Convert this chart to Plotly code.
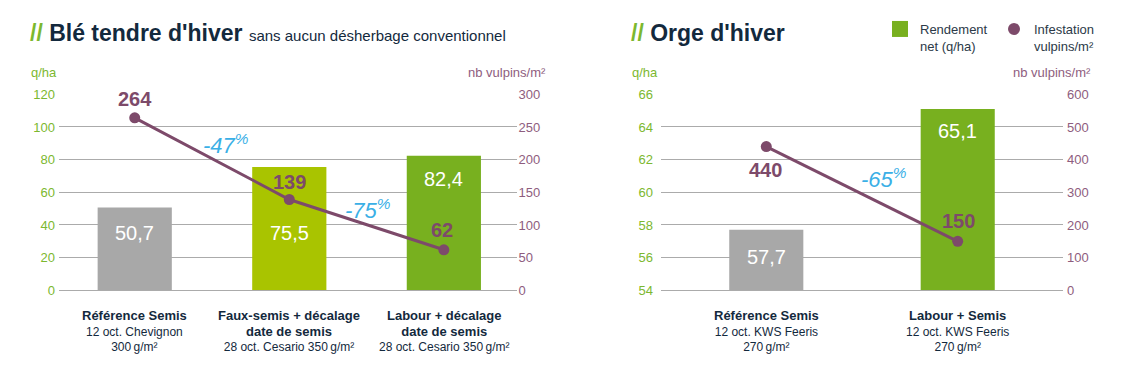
import plotly.graph_objects as go
from plotly.subplots import make_subplots

W, H = 1145, 371

# ---------------- data ----------------
ble_categories = ["Référence Semis", "Faux-semis + décalage", "Labour + décalage"]
ble_cat_labels = [
    "<span style='font-size:13px'><b>Référence Semis</b></span><br>12 oct. Chevignon<br>300\u2009g/m²",
    "<span style='font-size:13px'><b>Faux-semis + décalage</b></span><br><span style='font-size:13px'><b>date de semis</b></span><br>28 oct. Cesario 350\u2009g/m²",
    "<span style='font-size:13px'><b>Labour + décalage</b></span><br><span style='font-size:13px'><b>date de semis</b></span><br>28 oct. Cesario 350\u2009g/m²",
]
ble_rendement = [50.7, 75.5, 82.4]
ble_vulpins = [264, 139, 62]
ble_reductions = ["-47", "-75"]

orge_categories = ["Référence Semis", "Labour + Semis"]
orge_cat_labels = [
    "<span style='font-size:13px'><b>Référence Semis</b></span><br>12 oct. KWS Feeris<br>270\u2009g/m²",
    "<span style='font-size:13px'><b>Labour + Semis</b></span><br>12 oct. KWS Feeris<br>270\u2009g/m²",
]
orge_rendement = [57.7, 65.1]
orge_vulpins = [440, 150]
orge_reductions = ["-65"]

# ---------------- styles ----------------
FONT = "Liberation Sans, Arial, Helvetica, sans-serif"
NAVY = "#13293d"
GREEN_AX = "#7cb82f"
MAUVE_AX = "#8e5d7e"
LINE_C = "#7d4a6a"
BLUE = "#3aafe6"
GRID = "#ababab"
ble_colors = ["#a8a8a8", "#a9c400", "#78b01f"]
orge_colors = ["#a8a8a8", "#78b01f"]


def px(x):
    return x / W


def py(y):
    return 1 - y / H


def fmt(v):
    return f"{v:.1f}".replace(".", ",")


fig = make_subplots(rows=1, cols=2, specs=[[{"secondary_y": True}, {"secondary_y": True}]])

# bars
fig.add_trace(go.Bar(x=ble_categories, y=ble_rendement, marker=dict(color=ble_colors, line=dict(width=0)),
                     width=0.48, showlegend=False, hoverinfo="skip"), row=1, col=1, secondary_y=False)
fig.add_trace(go.Bar(x=orge_categories, y=orge_rendement, marker=dict(color=orge_colors, line=dict(width=0)),
                     width=0.387, showlegend=False, hoverinfo="skip"), row=1, col=2, secondary_y=False)
# lines
fig.add_trace(go.Scatter(x=ble_categories, y=ble_vulpins, mode="lines+markers",
                         line=dict(color=LINE_C, width=3), marker=dict(size=11, color=LINE_C),
                         showlegend=False, hoverinfo="skip"), row=1, col=1, secondary_y=True)
fig.add_trace(go.Scatter(x=orge_categories, y=orge_vulpins, mode="lines+markers",
                         line=dict(color=LINE_C, width=3), marker=dict(size=11, color=LINE_C),
                         showlegend=False, hoverinfo="skip"), row=1, col=2, secondary_y=True)
# legend entries
fig.add_trace(go.Scatter(x=[None], y=[None], mode="markers", name="Rendement<br>net (q/ha)",
                         marker=dict(symbol="square", size=17, color="#78b01f")), row=1, col=2, secondary_y=False)
fig.add_trace(go.Scatter(x=[None], y=[None], mode="markers", name="Infestation<br>vulpins/m²",
                         marker=dict(symbol="circle", size=12, color=LINE_C)), row=1, col=2, secondary_y=False)

ydom = [py(290.3), py(94.3)]
common_y = dict(domain=ydom, showgrid=True, gridcolor=GRID, gridwidth=1.2, zeroline=False,
                showline=False, ticks="", automargin=False, tickfont=dict(family=FONT, size=13, color=GREEN_AX))
common_y2 = dict(domain=ydom, showgrid=False, zeroline=False, ticks="", automargin=False,
                 tickfont=dict(family=FONT, size=13, color=MAUVE_AX))

fig.update_layout(
    width=W, height=H, margin=dict(l=0, r=0, t=0, b=0, pad=0, autoexpand=False),
    paper_bgcolor="white", plot_bgcolor="white",
    font=dict(family=FONT, color=NAVY),
    xaxis=dict(domain=[px(59), px(516.5)], range=[-0.49, 2.47], showticklabels=False, ticks="",
               showgrid=False, showline=True, linecolor=GRID, linewidth=1.2, zeroline=False, automargin=False),
    xaxis2=dict(domain=[px(661), px(1063)], range=[-0.55, 1.55], showticklabels=False, ticks="",
                showgrid=False, showline=True, linecolor=GRID, linewidth=1.2, zeroline=False, automargin=False),
    yaxis=dict(**common_y, range=[0, 120], dtick=20, ticklabelstandoff=3),
    yaxis2=dict(**common_y2, range=[0, 300], dtick=50, ticklabelstandoff=1),
    yaxis3=dict(**common_y, range=[54, 66], dtick=2, ticklabelstandoff=7),
    yaxis4=dict(**common_y2, range=[0, 600], dtick=100, ticklabelstandoff=3),
    bargap=0.5,
    legend=dict(orientation="h", x=px(880), y=py(14), xanchor="left", yanchor="top",
                entrywidth=69, entrywidthmode="pixels", valign="top", tracegroupgap=0,
                font=dict(family=FONT, size=13, color="#2c3a48"), bgcolor="rgba(0,0,0,0)"),
)

ann = []
# titles
ann.append(dict(x=px(28), y=py(33), xref="paper", yref="paper", xanchor="left", yanchor="middle",
                showarrow=False, font=dict(family=FONT, size=23, color=NAVY),
                text=f"<b><span style='color:{GREEN_AX}'>//</span> Blé tendre d'hiver</b> "
                     "<span style='font-size:15px'>sans aucun désherbage conventionnel</span>"))
ann.append(dict(x=px(629), y=py(33), xref="paper", yref="paper", xanchor="left", yanchor="middle",
                showarrow=False, font=dict(family=FONT, size=23, color=NAVY),
                text=f"<b><span style='color:{GREEN_AX}'>//</span> Orge d'hiver</b>"))
# axis unit titles
for xc, txt in [(43.5, "q/ha"), (645, "q/ha")]:
    ann.append(dict(x=px(xc), y=py(72), xref="paper", yref="paper", xanchor="center", yanchor="middle",
                    showarrow=False, text=txt, font=dict(family=FONT, size=13, color=GREEN_AX)))
for xr in [548, 1093]:
    ann.append(dict(x=px(xr), y=py(72), xref="paper", yref="paper", xanchor="right", yanchor="middle",
                    showarrow=False, text="nb vulpins/m²", font=dict(family=FONT, size=13, color=MAUVE_AX)))

# category labels
for xa, cats, labels in [("x", ble_categories, ble_cat_labels), ("x2", orge_categories, orge_cat_labels)]:
    for c, lab in zip(cats, labels):
        ann.append(dict(x=c, y=py(306), xref=xa, yref="paper", xanchor="center", yanchor="top",
                        showarrow=False, text=lab, align="center",
                        font=dict(family=FONT, size=12, color=NAVY)))

# bar value labels (white)
ble_bar_shift = [-26, -66, -23]
orge_bar_shift = [-27, -22]
for xa, ya, cats, vals, shifts in [("x", "y", ble_categories, ble_rendement, ble_bar_shift),
                                    ("x2", "y3", orge_categories, orge_rendement, orge_bar_shift)]:
    for c, v, s in zip(cats, vals, shifts):
        ann.append(dict(x=c, y=v, xref=xa, yref=ya, yshift=s, showarrow=False, text=fmt(v),
                        xanchor="center", yanchor="middle",
                        font=dict(family=FONT, size=20, color="white")))

# line value labels
ble_line_shift = [(0, 19), (0, 17), (-2, 20)]
orge_line_shift = [(-1, -23), (1, 20)]
for xa, ya, cats, vals, shifts in [("x", "y2", ble_categories, ble_vulpins, ble_line_shift),
                                    ("x2", "y4", orge_categories, orge_vulpins, orge_line_shift)]:
    for c, v, (sx, sy) in zip(cats, vals, shifts):
        ann.append(dict(x=c, y=v, xref=xa, yref=ya, xshift=sx, yshift=sy, showarrow=False,
                        text=f"<b>{v}</b>", xanchor="center", yanchor="middle",
                        font=dict(family=FONT, size=20, color=LINE_C)))

# reduction percentages
for (xc, yc), r in zip([(226, 144), (368, 209), (884, 178)], ble_reductions + orge_reductions):
    ann.append(dict(x=px(xc), y=py(yc), xref="paper", yref="paper", xanchor="center", yanchor="middle",
                    showarrow=False, text=f"<i>{r}<sup>%</sup></i>",
                    font=dict(family=FONT, size=22, color=BLUE)))

fig.update_layout(annotations=ann)
fig.write_html("out.html", config={"displayModeBar": False},
               post_script="document.body.style.margin='0';document.body.style.overflow='hidden';")
